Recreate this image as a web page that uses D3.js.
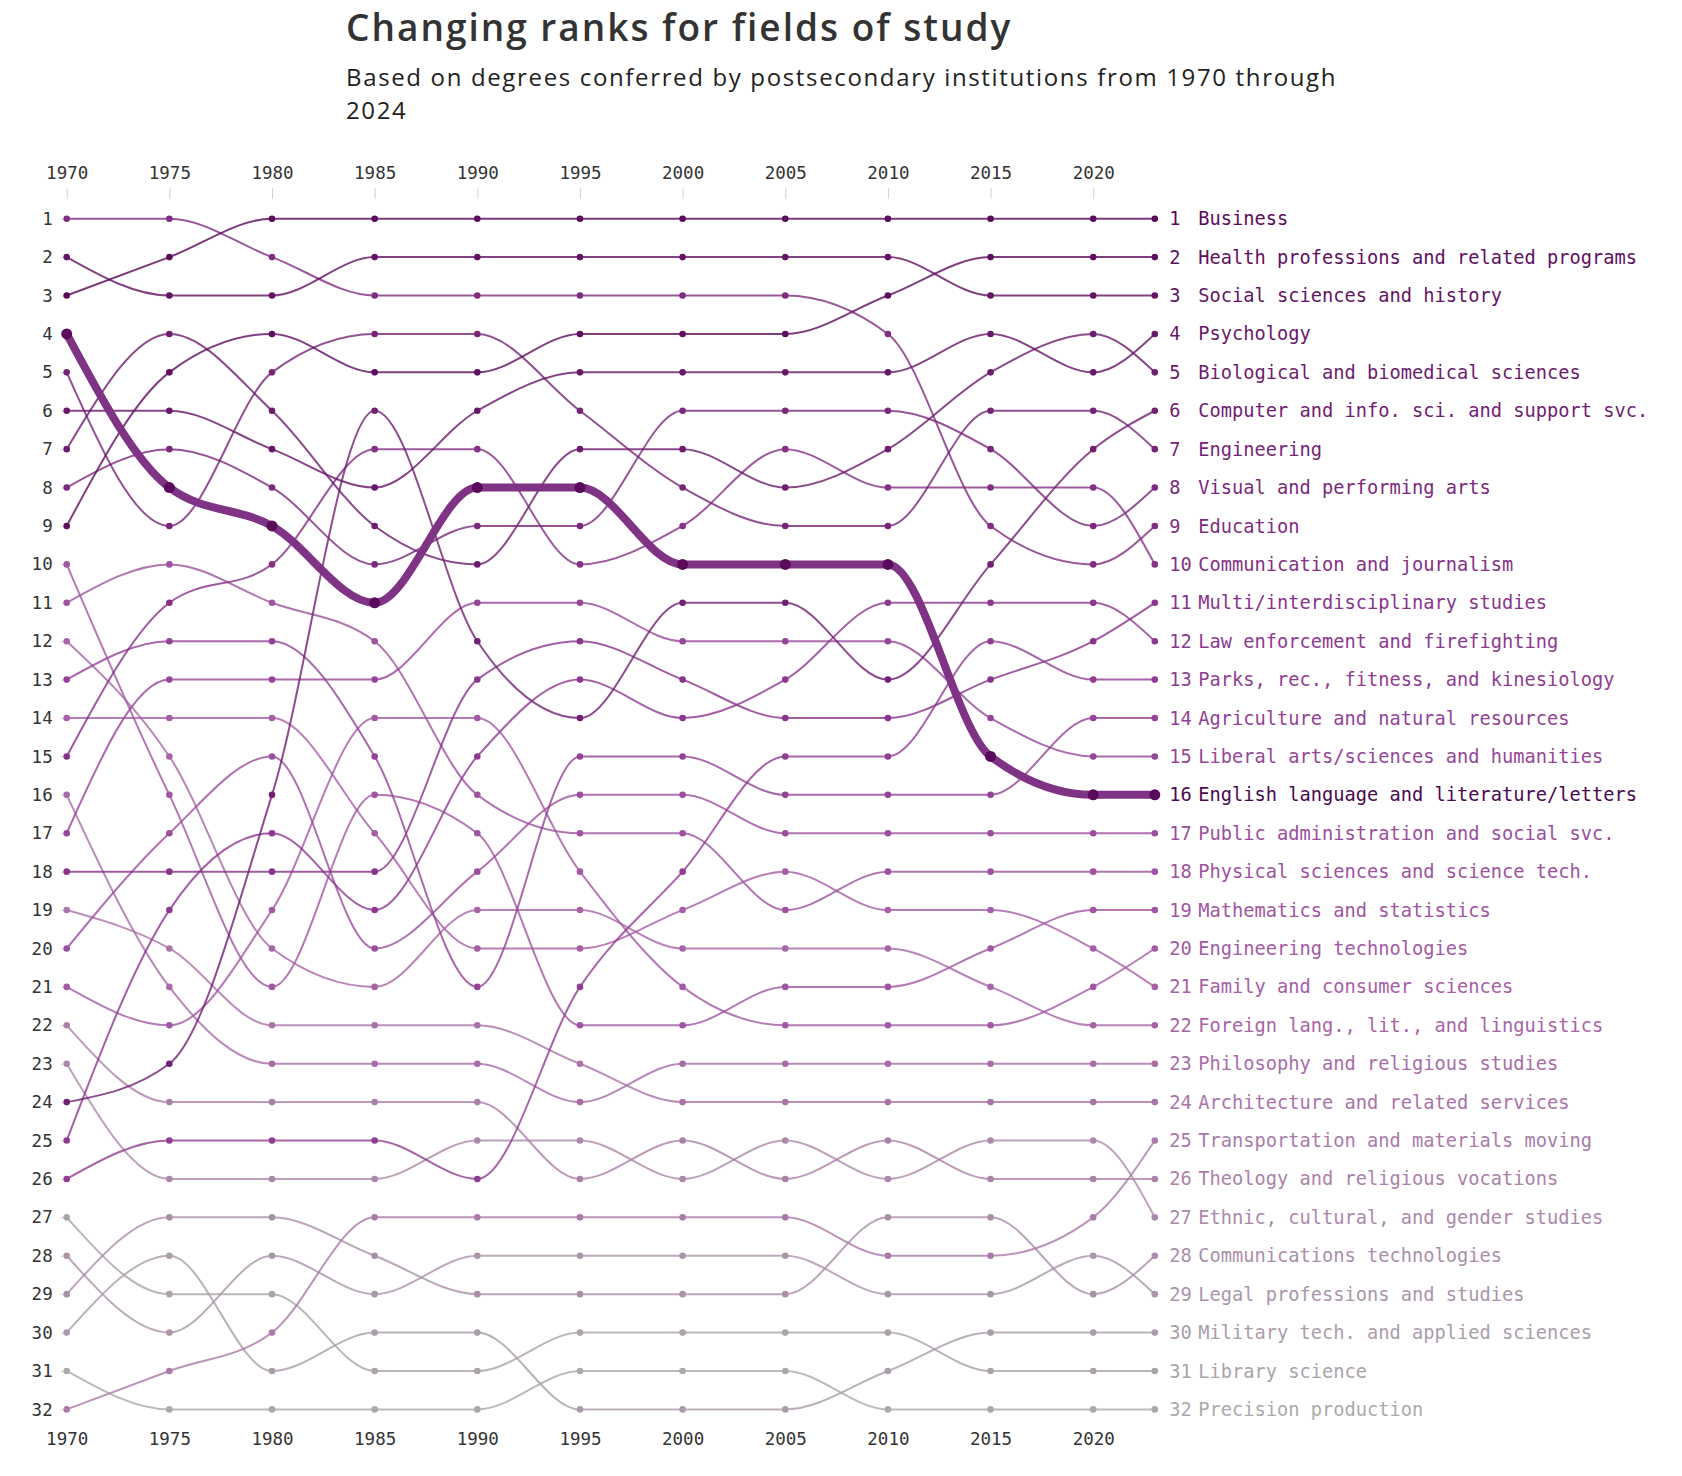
<!DOCTYPE html>
<html>
<head>
<meta charset="utf-8">
<script src="https://cdn.jsdelivr.net/npm/d3@7"></script>
<style>
  body { margin: 0; background: #fff; }
  text { font-family: "DejaVu Sans Mono", monospace; }
</style>
</head>
<body>
<div id="chart"></div>
<script>
const years = [1970, 1975, 1980, 1985, 1990, 1995, 2000, 2005, 2010, 2015, 2020, 2023];
const tickYears = [1970, 1975, 1980, 1985, 1990, 1995, 2000, 2005, 2010, 2015, 2020];
const rankTicks = d3.range(1, 33);

// fields in their final (2023) order
const fields = [
  'Business',
  'Health professions and related programs',
  'Social sciences and history',
  'Psychology',
  'Biological and biomedical sciences',
  'Computer and info. sci. and support svc.',
  'Engineering',
  'Visual and performing arts',
  'Education',
  'Communication and journalism',
  'Multi/interdisciplinary studies',
  'Law enforcement and firefighting',
  'Parks, rec., fitness, and kinesiology',
  'Agriculture and natural resources',
  'Liberal arts/sciences and humanities',
  'English language and literature/letters',
  'Public administration and social svc.',
  'Physical sciences and science tech.',
  'Mathematics and statistics',
  'Engineering technologies',
  'Family and consumer sciences',
  'Foreign lang., lit., and linguistics',
  'Philosophy and religious studies',
  'Architecture and related services',
  'Transportation and materials moving',
  'Theology and religious vocations',
  'Ethnic, cultural, and gender studies',
  'Communications technologies',
  'Legal professions and studies',
  'Military tech. and applied sciences',
  'Library science',
  'Precision production'
];

// rank of each field in each year, same order as fields
const ranks = [
  [3, 2, 1, 1, 1, 1, 1, 1, 1, 1, 1, 1],
  [9, 5, 4, 5, 5, 4, 4, 4, 3, 2, 2, 2],
  [2, 3, 3, 2, 2, 2, 2, 2, 2, 3, 3, 3],
  [6, 6, 7, 8, 6, 5, 5, 5, 5, 4, 5, 4],
  [7, 4, 6, 9, 10, 7, 7, 8, 7, 5, 4, 5],
  [24, 23, 16, 6, 12, 14, 11, 11, 13, 10, 7, 6],
  [5, 9, 5, 4, 4, 6, 8, 9, 9, 6, 6, 7],
  [8, 7, 8, 10, 9, 9, 6, 6, 6, 7, 9, 8],
  [1, 1, 2, 3, 3, 3, 3, 3, 4, 9, 10, 9],
  [15, 11, 10, 7, 7, 10, 9, 7, 8, 8, 8, 10],
  [18, 18, 18, 18, 13, 12, 13, 14, 14, 13, 12, 11],
  [25, 19, 17, 19, 15, 13, 14, 13, 11, 11, 11, 12],
  [26, 25, 25, 25, 26, 21, 18, 15, 15, 12, 13, 13],
  [13, 12, 12, 15, 21, 15, 15, 16, 16, 16, 14, 14],
  [17, 13, 13, 13, 11, 11, 12, 12, 12, 14, 15, 15],
  [4, 8, 9, 11, 8, 8, 10, 10, 10, 15, 16, 16],
  [20, 17, 15, 20, 18, 16, 16, 17, 17, 17, 17, 17],
  [11, 10, 11, 12, 16, 17, 17, 19, 18, 18, 18, 18],
  [10, 16, 21, 16, 17, 22, 22, 21, 21, 20, 19, 19],
  [21, 22, 19, 14, 14, 18, 21, 22, 22, 22, 21, 20],
  [14, 14, 14, 17, 20, 20, 19, 18, 19, 19, 20, 21],
  [12, 15, 20, 21, 19, 19, 20, 20, 20, 21, 22, 22],
  [16, 21, 23, 23, 23, 24, 23, 23, 23, 23, 23, 23],
  [19, 20, 22, 22, 22, 23, 24, 24, 24, 24, 24, 24],
  [32, 31, 30, 27, 27, 27, 27, 27, 28, 28, 27, 25],
  [22, 24, 24, 24, 24, 26, 25, 26, 25, 26, 26, 26],
  [23, 26, 26, 26, 25, 25, 26, 25, 26, 25, 25, 27],
  [29, 27, 27, 28, 29, 29, 29, 29, 27, 27, 29, 28],
  [28, 30, 28, 29, 28, 28, 28, 28, 29, 29, 28, 29],
  [30, 28, 31, 30, 30, 32, 32, 32, 31, 30, 30, 30],
  [27, 29, 29, 31, 31, 30, 30, 30, 30, 31, 31, 31],
  [31, 32, 32, 32, 32, 31, 31, 31, 32, 32, 32, 32]
];

const highlight = 'English language and literature/letters';

const width = 1682, height = 1476;

const x = d3.scaleLinear().domain([1970, 2023]).range([66.7, 1154.8]);
const y = d3.scaleLinear().domain([1, 32]).range([218.7, 1409.4]);

const color = d3.scaleLinear()
  .domain([1, 12, 21, 32])
  .range(['#5a0a5a', '#8e3990', '#a65ea6', '#aaaaaa'])
  .interpolate(d3.interpolateLab);

const series = fields.map((name, i) => ({
  name: name,
  final: i + 1,
  values: years.map((yr, j) => ({ year: yr, rank: ranks[i][j] }))
}));

const svg = d3.select('#chart')
  .append('svg')
  .attr('width', width)
  .attr('height', height)
  .style('background', '#fff');

// title
svg.append('text')
  .attr('x', 346)
  .attr('y', 41)
  .style('font-family', '"Open Sans", sans-serif')
  .style('font-size', '37px')
  .style('font-weight', 600)
  .style('letter-spacing', '2px')
  .style('fill', '#333')
  .text('Changing ranks for fields of study');

const sub = svg.append('text')
  .attr('x', 346)
  .attr('y', 86)
  .style('font-family', '"Open Sans", sans-serif')
  .style('font-size', '24px')
  .style('letter-spacing', '1.65px')
  .style('fill', '#222');
sub.append('tspan').attr('x', 346).text('Based on degrees conferred by postsecondary institutions from 1970 through');
sub.append('tspan').attr('x', 346).attr('dy', 32.5).text('2024');

// axes
const axisTop = svg.append('g')
  .attr('transform', 'translate(0,199)')
  .call(d3.axisTop(x).tickValues(tickYears).tickFormat(d3.format('d')).tickSize(11).tickPadding(9));

const axisBottom = svg.append('g')
  .attr('transform', 'translate(0,1420)')
  .call(d3.axisBottom(x).tickValues(tickYears).tickFormat(d3.format('d')).tickSize(0).tickPadding(12.5));

const axisLeft = svg.append('g')
  .attr('transform', `translate(${x(1970)},0)`)
  .call(d3.axisLeft(y).tickValues(rankTicks).tickSize(6).tickPadding(8));

[axisTop, axisBottom, axisLeft].forEach(g => {
  g.select('.domain').remove();
  g.selectAll('.tick line').attr('stroke', '#d4d4d4');
  g.selectAll('.tick text')
    .style('font-family', '"DejaVu Sans Mono", monospace')
    .style('font-size', '17.5px')
    .style('fill', '#333');
});

const line = d3.line()
  .x(d => x(d.year))
  .y(d => y(d.rank))
  .curve(d3.curveMonotoneX);

const ordered = series.filter(s => s.name !== highlight).reverse()
  .concat(series.filter(s => s.name === highlight));

const groups = svg.append('g')
  .attr('class', 'lines')
  .selectAll('g')
  .data(ordered)
  .enter().append('g');

groups.append('path')
  .attr('d', d => line(d.values))
  .style('fill', 'none')
  .style('stroke', d => d.name === highlight ? '#7f3384' : color(d.final))
  .style('stroke-width', d => d.name === highlight ? 8 : 2)
  .style('stroke-opacity', d => d.name === highlight ? 1 : 0.8);

groups.selectAll('circle')
  .data(d => d.values.map(v => Object.assign({ s: d }, v)))
  .enter().append('circle')
  .attr('cx', d => x(d.year))
  .attr('cy', d => y(d.rank))
  .attr('r', d => d.s.name === highlight ? 5.5 : 3.3)
  .style('fill', d => d.s.name === highlight ? '#5a0a5a' : color(d.s.final));

// end labels
const labels = svg.append('g')
  .attr('class', 'labels')
  .selectAll('g')
  .data(series)
  .enter().append('g')
  .attr('transform', d => `translate(${x(2023)},${y(d.final)})`)
  .style('fill', d => d.name === highlight ? '#4a0a4e' : color(d.final))
  .style('font-size', '18.7px');

labels.append('text')
  .attr('x', 14.5)
  .attr('dy', '0.35em')
  .text(d => d.final);

labels.append('text')
  .attr('x', 43.5)
  .attr('dy', '0.35em')
  .text(d => d.name);
</script>
</body>
</html>
